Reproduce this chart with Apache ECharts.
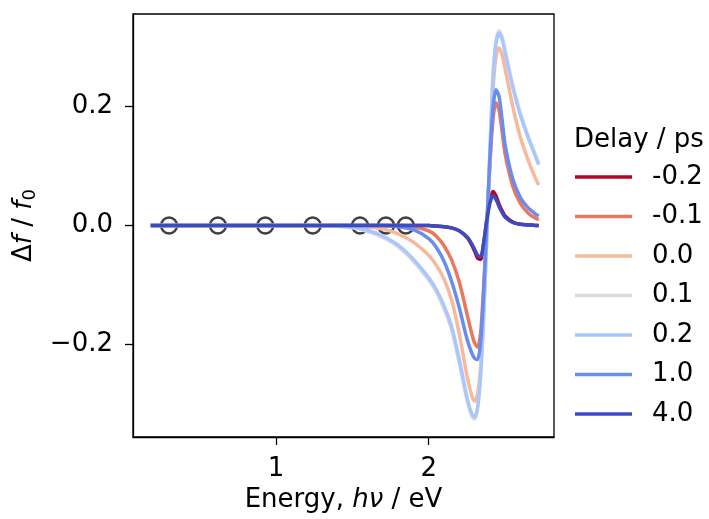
<!DOCTYPE html>
<html><head><meta charset="utf-8">
<script src="https://cdn.jsdelivr.net/npm/echarts@6/dist/echarts.min.js"></script>
<style>html,body{margin:0;padding:0;background:#fff}#c{width:709px;height:519px}</style>
</head><body><div id="c"></div>
<script>
// Energy grid (eV)
const energy = [0.18, 0.5, 1.0, 1.3, 1.5, 1.6, 1.7, 1.8, 1.9, 2.0, 2.05, 2.1, 2.15, 2.2, 2.25, 2.28, 2.3, 2.32, 2.34, 2.36, 2.38, 2.4, 2.42, 2.44, 2.46, 2.48, 2.5, 2.55, 2.6, 2.65, 2.7, 2.72];
const delays = ['-0.2', '-0.1', '0.0', '0.1', '0.2', '1.0', '4.0'];
// Δf/f0 per delay
const d_m02 = [0, 0, 0, 0, 0, 0, 0, 0, 0, 0, -0.001, -0.002, -0.004, -0.009, -0.02, -0.032, -0.043, -0.055, -0.057, -0.03, 0.01, 0.042, 0.057, 0.05, 0.036, 0.025, 0.016, 0.006, 0.002, 0.001, 0, 0];
const d_m01 = [0, 0, 0, 0, 0, 0, 0, 0, -0.002, -0.009, -0.018, -0.034, -0.058, -0.095, -0.148, -0.18, -0.197, -0.204, -0.18, -0.1, 0.0, 0.1, 0.177, 0.206, 0.194, 0.158, 0.12, 0.066, 0.037, 0.021, 0.012, 0.01];
const d_00 = [0, 0, 0, 0, -0.001, -0.002, -0.006, -0.014, -0.028, -0.05, -0.067, -0.09, -0.125, -0.182, -0.252, -0.284, -0.295, -0.283, -0.235, -0.14, -0.015, 0.11, 0.225, 0.283, 0.298, 0.287, 0.263, 0.2, 0.148, 0.11, 0.078, 0.068];
const d_01 = [0, 0, 0, 0, -0.004, -0.01, -0.02, -0.036, -0.06, -0.092, -0.112, -0.14, -0.176, -0.232, -0.293, -0.319, -0.325, -0.307, -0.25, -0.148, -0.017, 0.124, 0.25, 0.31, 0.327, 0.317, 0.294, 0.236, 0.189, 0.151, 0.118, 0.105];
const d_02 = [0, 0, 0, 0, -0.003, -0.008, -0.018, -0.033, -0.057, -0.088, -0.108, -0.135, -0.17, -0.225, -0.288, -0.315, -0.322, -0.305, -0.25, -0.15, -0.02, 0.12, 0.245, 0.305, 0.323, 0.313, 0.29, 0.232, 0.185, 0.148, 0.115, 0.102];
const d_10 = [0, 0, 0, 0, 0, 0, 0, -0.002, -0.007, -0.022, -0.037, -0.06, -0.094, -0.138, -0.19, -0.213, -0.223, -0.225, -0.195, -0.11, 0.0, 0.11, 0.195, 0.228, 0.217, 0.178, 0.135, 0.078, 0.047, 0.03, 0.019, 0.016];
const d_40 = [0, 0, 0, 0, 0, 0, 0, 0, 0, 0, -0.001, -0.002, -0.004, -0.009, -0.019, -0.03, -0.04, -0.05, -0.052, -0.028, 0.008, 0.037, 0.05, 0.044, 0.032, 0.022, 0.014, 0.005, 0.002, 0.001, 0, 0];
const seriesValues = [d_m02, d_m01, d_00, d_01, d_02, d_10, d_40];
// probe markers
const markerEnergy = [0.30, 0.62, 0.93, 1.24, 1.55, 1.72, 1.85];
const markerValue = [0, 0, 0, 0, 0, 0, 0];
// ticks
const xTicks = [1, 2];
const yTicks = [-0.2, 0, 0.2];

const colors = ['#b40426', '#e9785d', '#f7b89c', '#dddcdc', '#aac7fd', '#6a8bef', '#3b4cc0'];
const FF = 'DejaVu Sans';

const series = [{
  type: 'scatter', name: 'markers', z: 1,
  data: markerEnergy.map((x, i) => [x, markerValue[i]]),
  symbol: 'circle', symbolSize: 16,
  itemStyle: { color: 'rgba(0,0,0,0)', borderColor: '#404040', borderWidth: 2.4, opacity: 1 },
  silent: true
}];
delays.forEach((d, k) => {
  series.push({
    type: 'line', name: d, z: 2 + k,
    data: energy.map((x, i) => [x, seriesValues[k][i]]),
    showSymbol: false, symbol: 'none', smooth: 0.25,
    lineStyle: { width: 3.5, color: colors[k] },
    itemStyle: { color: colors[k] }
  });
});

const chart = echarts.init(document.getElementById('c'), null, { renderer: 'canvas' });
chart.setOption({
  animation: false,
  backgroundColor: '#fff',
  textStyle: { fontFamily: FF },
  grid: { left: 133, right: 155, top: 14, bottom: 82, show: true, borderColor: '#000', borderWidth: 1.3, backgroundColor: 'transparent' },
  title: { text: 'Delay / ps', left: 574, top: 127, padding: 0,
    textStyle: { fontFamily: FF, fontSize: 26, fontWeight: 'normal', color: '#000' } },
  legend: {
    orient: 'vertical', left: 575, top: 164, padding: 0,
    itemWidth: 57, itemHeight: 3.5, itemGap: 13.5, icon: 'rect',
    textStyle: { fontFamily: FF, fontSize: 26, color: '#000', padding: [0, 0, 0, 15] },
    data: delays
  },
  xAxis: {
    type: 'value', min: 0.064, max: 2.82,
    axisLine: { show: true, onZero: false, lineStyle: { color: '#000', width: 1.3 } },
    axisTick: { show: true, customValues: xTicks, length: 8, lineStyle: { color: '#000', width: 1.3 } },
    axisLabel: { customValues: xTicks, fontSize: 26, color: '#000', margin: 19, fontFamily: FF, formatter: v => String(v) },
    splitLine: { show: false },
    name: '{r|Energy, }{i|hν}{r| / eV}', nameLocation: 'middle', nameGap: 44,
    nameTextStyle: { rich: {
      r: { fontFamily: FF, fontSize: 26, color: '#000' },
      i: { fontFamily: FF, fontSize: 26, color: '#000', fontStyle: 'italic' } } }
  },
  yAxis: {
    type: 'value', min: -0.355, max: 0.355,
    axisLine: { show: true, onZero: false, lineStyle: { color: '#000', width: 1.3 } },
    axisTick: { show: true, customValues: yTicks, length: 8, lineStyle: { color: '#000', width: 1.3 } },
    axisLabel: { customValues: yTicks, fontSize: 26, color: '#000', margin: 20, fontFamily: FF,
      formatter: v => (v < -1e-9 ? '\u2212' : '') + Math.abs(v).toFixed(1) },
    splitLine: { show: false },
    name: '{r|Δ}{i|f}{r| / }{i|f}{s|0}', nameLocation: 'middle', nameGap: 93,
    nameTextStyle: { rich: {
      r: { fontFamily: FF, fontSize: 26, color: '#000', lineHeight: 30 },
      i: { fontFamily: FF, fontSize: 26, color: '#000', fontStyle: 'italic', lineHeight: 30 },
      s: { fontFamily: FF, fontSize: 18, color: '#000', lineHeight: 30, verticalAlign: 'bottom', padding: [10, 0, 0, 0] } } }
  },
  series: series
});
</script></body></html>
